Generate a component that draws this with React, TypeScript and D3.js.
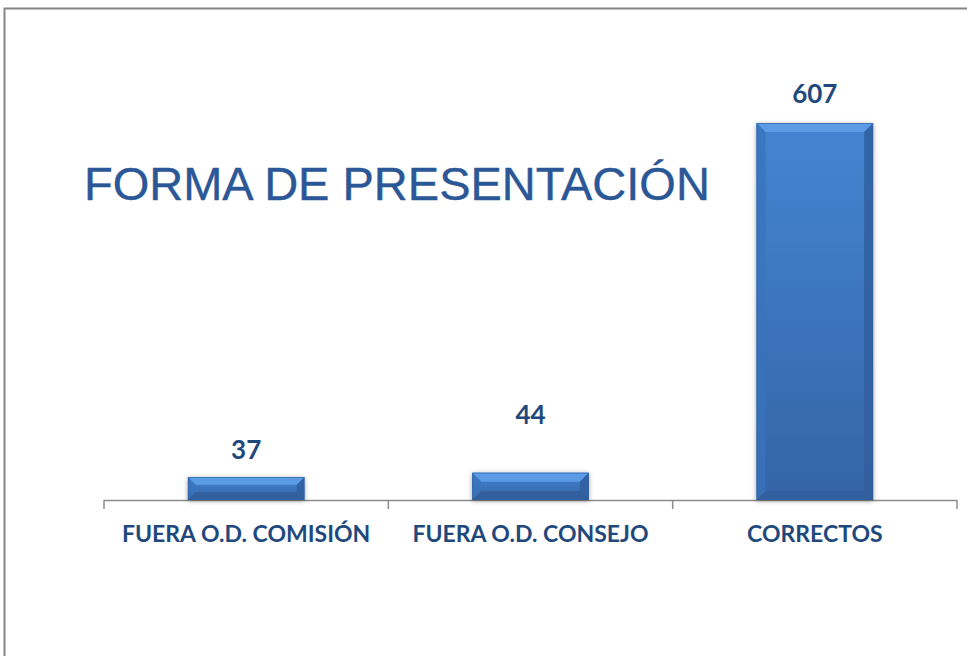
import React from "react";
import * as d3 from "d3";

const categories = ["FUERA O.D. COMISIÓN", "FUERA O.D. CONSEJO", "CORRECTOS"];
const values = [37, 44, 607];
const labelLift = [27, 58, 29];
const title = "FORMA DE PRESENTACIÓN";

const W = 967;
const H = 656;
const x0 = 104;
const x1 = 957;
const yBase = 500;

export default function App() {
  const x = d3.scaleBand<string>().domain(categories).range([x0, x1]).paddingInner(0.59).paddingOuter(0.295);
  const y = d3.scaleLinear().domain([0, 607]).range([yBase, 123]);
  const outer = d3.scaleBand<string>().domain(categories).range([x0, x1]);
  const ticks = [x0, ...categories.map((c) => (outer(c) as number) + outer.bandwidth())];
  const bw = x.bandwidth();

  return (
    <svg width={W} height={H} style={{ position: "absolute", left: 0, top: 0, background: "#fff" }}>
      <defs>
        <linearGradient id="body" x1="0" y1="0" x2="0" y2="1">
          <stop offset="0" stopColor="#4485D2" />
          <stop offset="1" stopColor="#3464A6" />
        </linearGradient>
        <filter id="sh" x="-20%" y="-20%" width="140%" height="140%">
          <feGaussianBlur in="SourceAlpha" stdDeviation="2.5" />
          <feOffset dx="0" dy="1" />
          <feComponentTransfer><feFuncA type="linear" slope="0.35" /></feComponentTransfer>
          <feMerge><feMergeNode /><feMergeNode in="SourceGraphic" /></feMerge>
        </filter>
      </defs>
      <rect x={4.5} y={8.5} width={W + 10} height={H + 10} fill="#fff" stroke="#868686" strokeWidth={2} />
      <text x={84} y={200} fontFamily="Liberation Sans, Arial, sans-serif" fontSize={47} fill="#2B5797" stroke="#2B5797" strokeWidth={0.4}>{title}</text>
      <line x1={x0} x2={x1} y1={yBase + 0.5} y2={yBase + 0.5} stroke="#8C8C8C" strokeWidth={1.5} />
      {ticks.map((t, i) => (
        <line key={i} x1={t} x2={t} y1={yBase} y2={yBase + 9} stroke="#8C8C8C" strokeWidth={1.5} />
      ))}
      {categories.map((c, i) => {
        const bx = x(c) as number;
        const top = y(values[i]);
        const h = yBase - top;
        const b = Math.min(9, h / 3);
        const r = bx + bw;
        return (
          <g key={c} filter="url(#sh)">
            <rect x={bx} y={top} width={bw} height={h} fill="url(#body)" />
            <polygon points={`${bx},${top} ${r},${top} ${r - b},${top + b} ${bx + b},${top + b}`} fill="#5E9DE8" opacity={0.95} />
            <polygon points={`${bx},${top} ${bx + b},${top + b} ${bx + b},${yBase - b} ${bx},${yBase}`} fill="#3A73BD" opacity={0.8} />
            <polygon points={`${r},${top} ${r - b},${top + b} ${r - b},${yBase - b} ${r},${yBase}`} fill="#2F5E9E" opacity={0.8} />
            <polygon points={`${bx},${yBase} ${bx + b},${yBase - b} ${r - b},${yBase - b} ${r},${yBase}`} fill="#2F5C9A" opacity={0.75} />
            <rect x={bx + 0.5} y={top + 0.5} width={bw - 1} height={h - 1} fill="none" stroke="#2E5B99" strokeWidth={1} opacity={0.6} />
          </g>
        );
      })}
      {categories.map((c, i) => (
        <text key={"v" + c} x={(x(c) as number) + bw / 2} y={y(values[i]) - labelLift[i] + 9} textAnchor="middle"
          fontFamily="Lato, Open Sans, sans-serif" fontWeight={700} fontSize={26} fill="#1F497D">{values[i]}</text>
      ))}
      {categories.map((c) => (
        <text key={"c" + c} x={(x(c) as number) + bw / 2} y={542} textAnchor="middle"
          fontFamily="Lato, Open Sans, sans-serif" fontWeight={700} fontSize={23} fill="#1F497D">{c}</text>
      ))}
    </svg>
  );
}
